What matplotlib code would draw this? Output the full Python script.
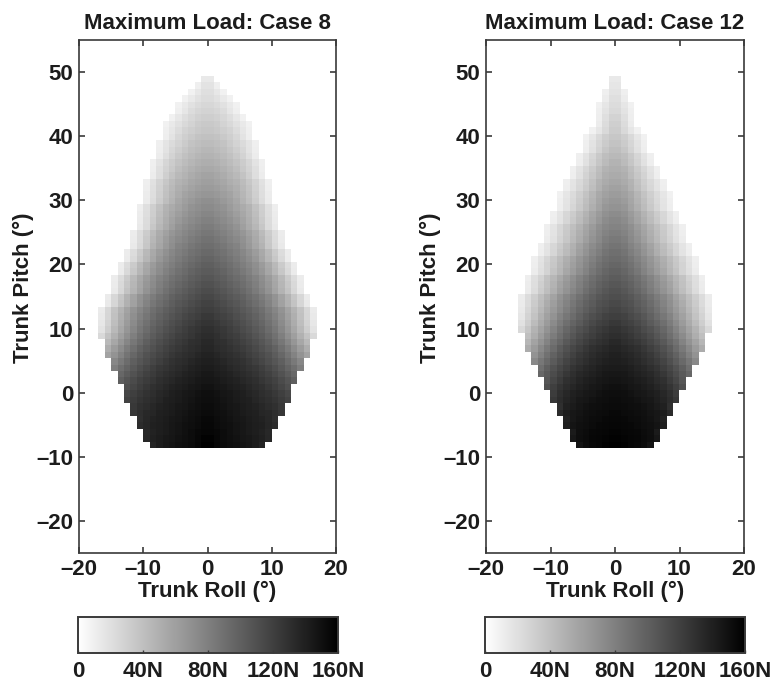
import matplotlib
matplotlib.use('Agg')
import matplotlib.pyplot as plt
import numpy as np

plt.rcParams['font.family'] = ['Liberation Sans', 'DejaVu Sans']
plt.rcParams['font.weight'] = 'bold'

# load in N per pitch row (top row first), each row goes from the centre
# column outwards, the map is mirrored around roll = 0
case8_rows = [
    [14],
    [18, 10],
    [20, 15, 9],
    [22, 19, 14, 9],
    [25, 23, 19, 14, 9],
    [28, 26, 22, 16, 10],
    [31, 29, 25, 21, 15, 9],
    [34, 32, 28, 24, 19, 14, 9],
    [36, 34, 31, 27, 22, 16, 10],
    [39, 37, 34, 30, 25, 18, 11],
    [42, 40, 37, 33, 28, 23, 17, 10],
    [45, 43, 40, 36, 31, 25, 18, 11],
    [48, 46, 43, 39, 34, 27, 20, 12],
    [51, 49, 46, 42, 38, 32, 26, 18, 10],
    [54, 52, 49, 45, 41, 34, 28, 20, 11],
    [57, 55, 52, 48, 44, 37, 30, 21, 12],
    [60, 58, 55, 51, 47, 42, 35, 27, 19, 10],
    [63, 61, 58, 54, 50, 44, 37, 29, 20, 11],
    [66, 64, 61, 57, 52, 46, 39, 30, 21, 12],
    [70, 67, 64, 60, 55, 48, 41, 32, 22, 13],
    [73, 70, 67, 63, 58, 53, 47, 39, 30, 20, 11],
    [76, 73, 70, 66, 61, 55, 49, 41, 31, 21, 12],
    [79, 76, 73, 69, 64, 58, 51, 43, 33, 22, 13],
    [82, 79, 76, 72, 67, 60, 53, 45, 35, 23, 14],
    [85, 82, 79, 75, 71, 66, 59, 52, 43, 32, 22, 12],
    [88, 85, 82, 78, 74, 69, 62, 54, 45, 34, 23, 13],
    [91, 88, 85, 81, 77, 71, 64, 56, 47, 35, 24, 14],
    [94, 91, 88, 84, 80, 75, 69, 62, 54, 44, 33, 22, 12],
    [97, 94, 91, 87, 83, 78, 72, 65, 56, 46, 35, 24, 13],
    [100, 97, 94, 90, 86, 81, 76, 70, 63, 54, 44, 33, 22, 12],
    [103, 100, 97, 93, 89, 84, 79, 72, 65, 56, 46, 35, 24, 13],
    [106, 103, 100, 96, 92, 88, 83, 78, 71, 63, 54, 44, 33, 22, 12],
    [109, 106, 103, 99, 95, 91, 86, 80, 73, 65, 56, 46, 35, 24, 13],
    [112, 109, 106, 102, 98, 94, 89, 83, 76, 68, 58, 48, 37, 25, 14],
    [115, 112, 109, 105, 102, 98, 93, 88, 82, 75, 67, 57, 47, 36, 25, 13],
    [118, 115, 112, 108, 105, 101, 96, 91, 85, 78, 69, 59, 49, 38, 26, 14],
    [121, 118, 115, 112, 108, 104, 100, 95, 90, 83, 76, 68, 58, 48, 37, 25, 13],
    [124, 121, 118, 115, 111, 107, 103, 98, 93, 86, 79, 70, 60, 50, 39, 26, 14],
    [127, 124, 121, 118, 114, 110, 106, 101, 96, 89, 82, 73, 63, 52, 41, 28, 15],
    [130, 127, 124, 121, 117, 113, 109, 104, 99, 92, 85, 76, 66, 55, 44, 31, 18],
    [132, 129, 126, 123, 120, 116, 112, 107, 102, 96, 89, 80, 70, 60, 49, 37, 24],
    [134, 131, 129, 126, 123, 119, 115, 111, 106, 100, 93, 85, 76, 66, 55, 44],
    [136, 133, 131, 128, 125, 122, 118, 114, 109, 104, 98, 90, 82, 72, 62, 51],
    [138, 136, 133, 131, 128, 125, 121, 117, 113, 108, 102, 95, 87, 78, 68, 58],
    [140, 138, 136, 133, 131, 128, 124, 120, 116, 111, 106, 100, 92, 84, 75],
    [142, 140, 138, 135, 133, 130, 127, 124, 120, 115, 110, 104, 97, 90, 81],
    [144, 142, 140, 138, 135, 133, 130, 127, 123, 119, 114, 108, 102, 95],
    [146, 144, 142, 140, 138, 135, 133, 130, 126, 122, 118, 113, 107, 100],
    [148, 146, 144, 142, 140, 138, 135, 132, 129, 125, 121, 116, 110],
    [150, 148, 146, 144, 142, 140, 137, 134, 131, 128, 124, 120, 115],
    [151, 149, 147, 145, 143, 141, 139, 136, 133, 130, 127, 123, 118],
    [152, 150, 148, 146, 144, 142, 140, 138, 135, 132, 129, 124],
    [153, 151, 149, 147, 145, 143, 141, 139, 136, 134, 131, 126],
    [154, 152, 150, 148, 146, 144, 142, 140, 138, 135, 130],
    [155, 153, 151, 149, 147, 145, 143, 141, 139, 136, 132],
    [156, 154, 152, 149, 147, 145, 143, 141, 138, 134],
    [158, 155, 152, 150, 148, 146, 144, 142, 139, 135],
    [160, 156, 153, 151, 149, 147, 145, 142, 137],
]

case12_rows = [
    [14],
    [16],
    [18, 10],
    [20, 12],
    [22, 16, 9],
    [24, 18, 10],
    [27, 20, 11],
    [30, 22, 12],
    [32, 24, 16, 9],
    [35, 31, 24, 16, 9],
    [38, 33, 26, 18, 10],
    [41, 36, 28, 19, 11],
    [44, 41, 34, 26, 18, 10],
    [47, 43, 36, 28, 19, 11],
    [50, 47, 41, 33, 25, 18, 10],
    [53, 50, 43, 35, 27, 19, 11],
    [56, 53, 47, 39, 31, 24, 17, 10],
    [59, 56, 49, 41, 33, 25, 18, 11],
    [62, 59, 54, 46, 38, 30, 23, 16, 9],
    [65, 62, 56, 48, 40, 32, 24, 17, 10],
    [68, 65, 58, 50, 42, 34, 26, 18, 11],
    [72, 69, 63, 56, 48, 40, 32, 25, 17, 10],
    [75, 72, 65, 58, 50, 42, 34, 26, 18, 11],
    [78, 75, 70, 63, 56, 48, 40, 33, 25, 17, 10],
    [81, 78, 72, 65, 58, 50, 42, 34, 26, 18, 11],
    [84, 81, 74, 67, 60, 52, 44, 35, 27, 19, 12],
    [87, 84, 78, 72, 65, 57, 49, 41, 33, 25, 17, 10],
    [90, 87, 81, 75, 68, 60, 51, 43, 35, 26, 18, 11],
    [93, 90, 85, 79, 73, 66, 58, 50, 42, 34, 26, 18, 10],
    [96, 93, 88, 82, 75, 68, 60, 52, 44, 35, 27, 19, 11],
    [99, 96, 91, 85, 78, 71, 63, 55, 46, 37, 28, 20, 12],
    [102, 99, 95, 90, 84, 77, 70, 62, 54, 45, 37, 28, 20, 11],
    [105, 102, 98, 93, 87, 80, 73, 65, 57, 48, 39, 30, 21, 12],
    [108, 105, 101, 96, 90, 83, 76, 68, 60, 50, 41, 32, 22, 13],
    [111, 108, 105, 100, 95, 89, 82, 75, 67, 58, 49, 40, 31, 22, 12],
    [114, 111, 108, 103, 98, 92, 85, 78, 70, 61, 52, 42, 33, 23, 13],
    [117, 114, 111, 106, 101, 95, 88, 81, 73, 64, 55, 45, 35, 25, 14],
    [120, 118, 114, 110, 105, 99, 92, 85, 77, 68, 59, 49, 38, 27, 16],
    [124, 121, 118, 114, 109, 103, 97, 90, 82, 73, 63, 53, 42, 31, 19],
    [128, 125, 122, 118, 113, 108, 102, 95, 87, 78, 68, 58, 47, 36, 24],
    [131, 128, 125, 121, 117, 112, 106, 99, 91, 82, 73, 62, 51, 40],
    [134, 131, 128, 125, 121, 116, 110, 104, 96, 88, 78, 68, 57, 46],
    [137, 134, 132, 129, 125, 120, 115, 109, 102, 93, 84, 74, 63, 52],
    [139, 137, 135, 132, 128, 124, 119, 113, 106, 98, 89, 79, 68],
    [141, 139, 137, 134, 131, 127, 123, 117, 110, 103, 94, 85, 74],
    [143, 142, 140, 137, 134, 131, 127, 121, 115, 108, 100, 90],
    [145, 144, 142, 139, 137, 134, 130, 125, 119, 112, 104, 95],
    [147, 146, 144, 142, 140, 137, 133, 129, 123, 116, 106],
    [149, 148, 146, 144, 142, 139, 136, 132, 127, 120, 110],
    [151, 150, 148, 146, 144, 142, 139, 135, 130, 122],
    [152, 151, 150, 148, 146, 144, 141, 137, 132, 125],
    [153, 152, 151, 150, 148, 146, 143, 139, 130],
    [154, 153, 152, 151, 149, 147, 145, 141, 133],
    [155, 154, 153, 152, 150, 148, 145, 138],
    [156, 155, 154, 153, 151, 149, 147, 140],
    [157, 156, 155, 154, 152, 150, 143],
    [158, 157, 156, 155, 153, 151, 145],
    [160, 158, 156, 154, 152, 147],
]

titles = ['Maximum Load: Case 8', 'Maximum Load: Case 12']
roll_ticks = [-20, -10, 0, 10, 20]
pitch_ticks = [-20, -10, 0, 10, 20, 30, 40, 50]
load_ticks = [0, 40, 80, 120, 160]
load_labels = ['0', '40N', '80N', '120N', '160N']

W, H = 770, 684
DARK = '#3a3a3a'
TEXT = '#1c1c1c'
FS = 16


def px_axes(fig, x0, x1, y0, y1):
    return fig.add_axes([x0/W, 1-y1/H, (x1-x0)/W, (y1-y0)/H])


def rows_to_grid(rows):
    # tükrözés a roll = 0 tengelyre, a sorok 1 fok szélesek
    grid = np.full((len(rows), 40), np.nan)
    for i, row in enumerate(rows):
        for k, val in enumerate(row):
            grid[i, 20+k] = val
            grid[i, 19-k] = val
    return grid


def draw_panel(fig, rows, title, x0, x1, cx0, cx1):
    ax = px_axes(fig, x0, x1, 40, 553)
    top = -8.7+len(rows)
    im = ax.imshow(rows_to_grid(rows), cmap='gray_r', vmin=0, vmax=160, aspect='auto',
                   interpolation='nearest', extent=[-20, 20, -8.7, top])
    ax.set_xlim(-20, 20)
    ax.set_ylim(-25, 55)
    ax.set_xticks(roll_ticks)
    ax.set_yticks(pitch_ticks)
    ax.set_xticklabels([str(t).replace('-', '–') for t in roll_ticks])
    ax.set_yticklabels([str(t).replace('-', '–') for t in pitch_ticks])
    ax.tick_params(direction='in', top=True, right=True, length=4, width=1.2, color=DARK,
                   labelsize=FS, labelcolor=TEXT, pad=4)
    for spine in ax.spines.values():
        spine.set_color(DARK)
        spine.set_linewidth(1.2)
    ax.set_title(title, fontsize=FS, fontweight='bold', color=TEXT, pad=8)
    ax.set_xlabel('Trunk Roll (°)', fontsize=FS, fontweight='bold', color=TEXT, labelpad=1)
    ax.set_ylabel('Trunk Pitch (°)', fontsize=FS, fontweight='bold', color=TEXT, labelpad=2, y=0.517)

    cax = px_axes(fig, cx0, cx1, 617, 653)
    cb = fig.colorbar(im, cax=cax, orientation='horizontal', ticks=load_ticks)
    cb.set_ticklabels(load_labels)
    cax.tick_params(direction='in', length=2, width=1, color=DARK, labelsize=FS,
                    labelcolor=TEXT, pad=6)
    cb.outline.set_edgecolor(DARK)
    cb.outline.set_linewidth(1.4)


fig = plt.figure(figsize=(W/100, H/100), dpi=100)
draw_panel(fig, case8_rows, titles[0], 79, 336, 78, 338)
draw_panel(fig, case12_rows, titles[1], 486, 744, 485, 745)
fig.savefig('out.png', dpi=100)
